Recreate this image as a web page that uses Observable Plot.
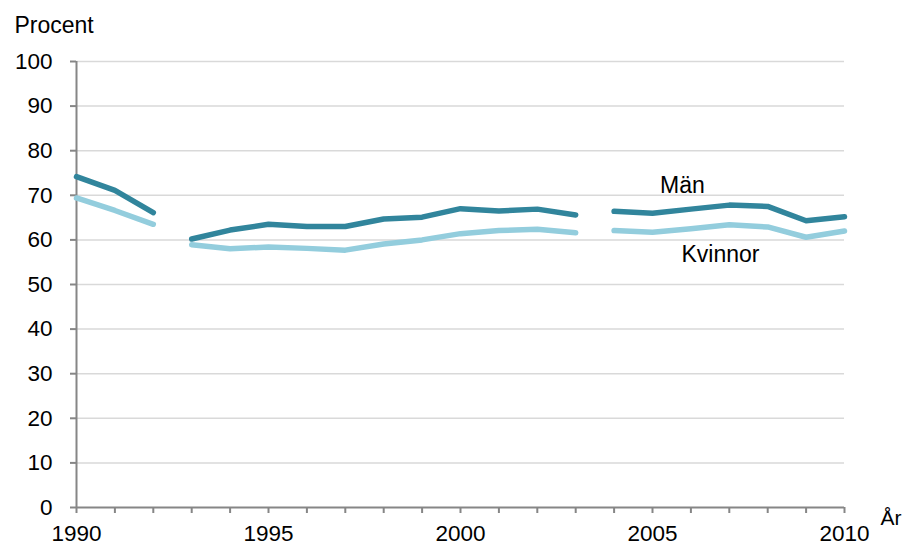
<!DOCTYPE html>
<html>
<head>
<meta charset="utf-8">
<script src="https://cdn.jsdelivr.net/npm/d3@7"></script>
<script src="https://cdn.jsdelivr.net/npm/@observablehq/plot@0.6"></script>
<style>
  html, body { margin: 0; padding: 0; background: #fff; }
  svg { display: block; }
</style>
</head>
<body>
<div id="chart"></div>
<script>
const years = d3.range(1990, 2011);
const man     = [74.2, 71.1, 66.1, 60.2, 62.2, 63.5, 63.0, 63.0, 64.7, 65.1, 67.0, 66.5, 66.9, 65.6, 66.4, 66.0, 66.9, 67.8, 67.5, 64.3, 65.2];
const kvinnor = [69.4, 66.6, 63.5, 58.9, 58.0, 58.4, 58.1, 57.7, 59.1, 60.0, 61.4, 62.1, 62.4, 61.6, 62.1, 61.7, 62.5, 63.4, 62.9, 60.6, 62.0];
// series are broken (new segment starts) at these years
const breakYears = [1993, 2004];
const yTicks = d3.range(0, 101, 10);
const xTicks = d3.range(1990, 2011, 1);
const xLabelTicks = [1990, 1995, 2000, 2005, 2010];
const seriesNames = ["Män", "Kvinnor"];
const seriesColors = ["#31859c", "#93cddd"];
// label anchor points, in data units
const labelX = [2005.78, 2006.77];
const labelY = [72.2, 56.8];

const seg = y => breakYears.filter(b => y >= b).length;
const rows = (vals, name) => years.map((y, i) => ({year: y, value: vals[i], series: name, seg: seg(y)}));
const data = [...rows(man, seriesNames[0]), ...rows(kvinnor, seriesNames[1])];
const labels = seriesNames.map((n, i) => ({name: n, x: labelX[i], y: labelY[i], color: seriesColors[i]}));

const font = "'Liberation Sans', Arial, sans-serif";
const chart = Plot.plot({
  width: 904,
  height: 545,
  marginLeft: 76,
  marginRight: 60,
  marginTop: 61,
  marginBottom: 38,
  style: {fontFamily: font, fontSize: "22px", background: "#fff", color: "#000"},
  x: {domain: [1990, 2010], axis: null},
  y: {domain: [0, 100], axis: null},
  marks: [
    Plot.ruleY(yTicks.filter(d => d > 0), {stroke: "#d9d9d9", strokeWidth: 1.5}),
    Plot.axisY({ticks: yTicks, tickSize: 6, tickPadding: 18, stroke: "#868686", strokeWidth: 2, fill: "#000", fontSize: 22.5, label: null}),
    Plot.axisX({ticks: xTicks, tickSize: 6, tickPadding: 12, stroke: "#868686", strokeWidth: 2, fill: "#000", fontSize: 22.5, label: null,
      tickFormat: d => xLabelTicks.includes(d) ? String(d) : ""}),
    Plot.ruleX([1990], {stroke: "#868686", strokeWidth: 2}),
    Plot.ruleY([0], {stroke: "#868686", strokeWidth: 2}),
    Plot.line(data.filter(d => d.series === seriesNames[1]), {x: "year", y: "value", z: "seg", stroke: seriesColors[1], strokeWidth: 5.5, strokeLinecap: "round", strokeLinejoin: "round"}),
    Plot.line(data.filter(d => d.series === seriesNames[0]), {x: "year", y: "value", z: "seg", stroke: seriesColors[0], strokeWidth: 5.5, strokeLinecap: "round", strokeLinejoin: "round"}),
    Plot.text(labels, {x: "x", y: "y", text: "name", fill: "#000", fontSize: 23, textAnchor: "middle", lineAnchor: "middle"}),
    Plot.text(["Procent"], {frameAnchor: "top-left", dx: -62, dy: -36, textAnchor: "start", lineAnchor: "middle", fontSize: 23, fill: "#000"}),
    Plot.text(["År"], {frameAnchor: "bottom-right", dx: 36, dy: 11, textAnchor: "start", lineAnchor: "middle", fontSize: 21, fill: "#000"})
  ]
});
document.getElementById("chart").appendChild(chart);
</script>
</body>
</html>
